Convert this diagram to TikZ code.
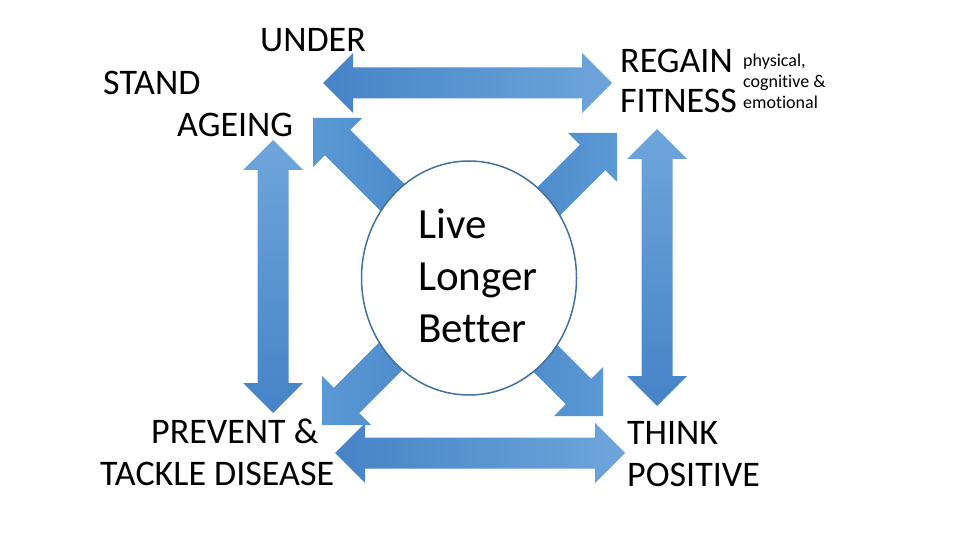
\documentclass[tikz,border=0pt]{standalone}
\usepackage{fontspec}
\setmainfont[Ligatures=NoCommon]{Carlito}
\usetikzlibrary{calc,shapes.geometric}
\definecolor{arrDark}{HTML}{4683C7}
\definecolor{arrMid}{HTML}{5A99D4}
\definecolor{arrLight}{HTML}{6EA5DB}
\definecolor{ringC}{HTML}{41719C}
\newcommand\HDbl[3]{%
  \shade[#3] (#1) -- ($(#1)+(30,-30)$) -- ($(#1)+(30,-15.5)$) -- ($(#2)+(-30,-15.5)$) -- ($(#2)+(-30,-30)$) -- (#2)
   -- ($(#2)+(-30,30)$) -- ($(#2)+(-30,15.5)$) -- ($(#1)+(30,15.5)$) -- ($(#1)+(30,30)$) -- cycle;}
\newcommand\VDbl[3]{%
  \shade[#3] (#1) -- ($(#1)+(30,30)$) -- ($(#1)+(15.5,30)$) -- ($(#2)+(15.5,-30)$) -- ($(#2)+(30,-30)$) -- (#2)
   -- ($(#2)+(-30,-30)$) -- ($(#2)+(-15.5,-30)$) -- ($(#1)+(-15.5,30)$) -- ($(#1)+(-30,30)$) -- cycle;}
\newcommand\DiagArr[4]{%
  \shade[#4] (#1) -- +({-(#2)*49},0) -- +({-(#2)*37.23},{-(#3)*11.77}) -- +({-(#2)*137.23},{-(#3)*111.77})
   -- +({-(#2)*111.77},{-(#3)*137.23}) -- +({-(#2)*11.77},{-(#3)*37.23}) -- +(0,{-(#3)*49}) -- cycle;}
\begin{document}
\begin{tikzpicture}[x=1pt,y=-1pt,
  lbl/.style={inner sep=0pt, anchor=base west, font=\fontsize{36}{43}\selectfont},
  big/.style={inner sep=0pt, anchor=base west, font=\fontsize{43}{52}\selectfont},
  small/.style={inner sep=0pt, anchor=base west, font=\fontsize{18}{21}\selectfont},
  hub/.style={ellipse, draw=ringC, line width=1.5pt, fill=white, inner sep=0pt,
    minimum width=215pt, minimum height=234pt}]
\useasboundingbox[fill=white] (0,0) rectangle (960,540);
% arrow end points
\coordinate (topL) at (323,83);
\coordinate (topR) at (612,83);
\coordinate (botL) at (335,453);
\coordinate (botR) at (625,453);
\coordinate (lefT) at (273,140);
\coordinate (lefB) at (273,413);
\coordinate (rigT) at (657,129);
\coordinate (rigB) at (657,406);
\coordinate (ulTip) at (313,118);
\coordinate (urTip) at (617,133);
\coordinate (llTip) at (322,425);
\coordinate (lrTip) at (603,416);
% double arrows
\HDbl{topL}{topR}{left color=arrDark, right color=arrLight}
\HDbl{botL}{botR}{left color=arrDark, right color=arrLight}
\VDbl{lefT}{lefB}{top color=arrLight, bottom color=arrDark}
\VDbl{rigT}{rigB}{top color=arrLight, bottom color=arrDark}
% diagonal arrows
\DiagArr{ulTip}{-1}{-1}{left color=arrMid, right color=arrDark}
\DiagArr{urTip}{1}{-1}{left color=arrDark, right color=arrMid}
\DiagArr{llTip}{-1}{1}{left color=arrMid, right color=arrDark}
\DiagArr{lrTip}{1}{1}{left color=arrDark, right color=arrMid}
% centre
\node[hub] (centre) at (469,278) {};
\node[big] (live) at (418,238) {Live};
\node[big] (longer) at (418,290) {Longer};
\node[big] (better) at (418,342) {Better};
% labels
\node[lbl] (under) at (260,52) {UNDER};
\node[lbl] (stand) at (103,95) {STAND};
\node[lbl] (ageing) at (177,137) {AGEING};
\node[lbl] (regain) at (620,73) {REGAIN};
\node[lbl] (fitness) at (620,113) {FITNESS};
\node[small] (phys) at (743,67) {physical,};
\node[small] (cogn) at (743,88) {cognitive \&};
\node[small] (emot) at (743,109) {emotional};
\node[lbl] (prevent) at (151,443) {PREVENT \&};
\node[lbl] (tackle) at (100,485) {TACKLE DISEASE};
\node[lbl] (think) at (627,444) {THINK};
\node[lbl] (positive) at (627,486) {POSITIVE};
\end{tikzpicture}
\end{document}
